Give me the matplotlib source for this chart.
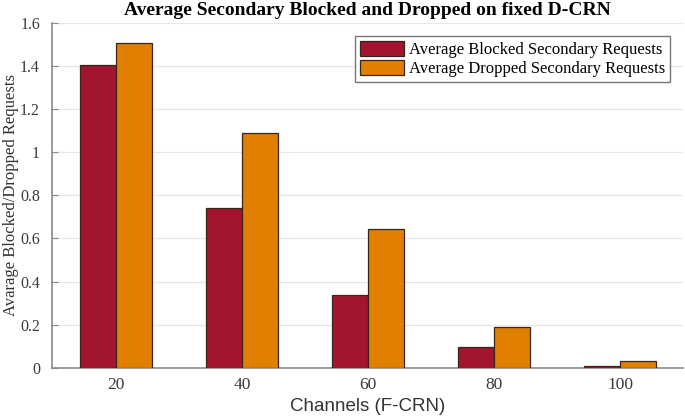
import numpy as np
import matplotlib.pyplot as plt

channels = ["20", "40", "60", "80", "100"]
blocked = [1.405, 0.742, 0.338, 0.095, 0.008]
dropped = [1.506, 1.09, 0.645, 0.189, 0.031]
yticks = [0, 0.2, 0.4, 0.6, 0.8, 1, 1.2, 1.4, 1.6]
ytick_labels = ["0", "0.2", "0.4", "0.6", "0.8", "1", "1.2", "1.4", "1.6"]

serif = ["Liberation Serif", "DejaVu Serif"]
sans = ["Liberation Sans", "DejaVu Sans"]

fig = plt.figure(figsize=(6.85, 4.2), dpi=100)
ax = fig.add_axes([0.0755, 0.1245, 0.9216, 0.8207])

x = np.arange(len(channels))
w = 0.286
ax.bar(x - w / 2, blocked, w, color="#A31431", edgecolor="#3c2418", linewidth=0.9,
       label="Average Blocked Secondary Requests", zorder=3)
ax.bar(x + w / 2, dropped, w, color="#E07F00", edgecolor="#3c2418", linewidth=0.9,
       label="Average Dropped Secondary Requests", zorder=3)

ax.set_xlim(-0.51, 4.5)
ax.set_ylim(0, 1.6)
ax.set_xticks(x)
ax.set_xticklabels(channels, family=serif, fontsize=12.5, color="#3a3a3a")
ax.set_yticks(yticks)
ax.set_yticklabels(ytick_labels, family=serif, fontsize=11.5, color="#3a3a3a")
ax.tick_params(axis="y", length=4, color="#888888", direction="in", pad=8.5)
ax.tick_params(axis="x", length=0, pad=7)

ax.grid(axis="y", color="#e6e6e6", linewidth=0.9, zorder=0)
for s in ["top", "right"]:
    ax.spines[s].set_visible(False)
for s in ["left", "bottom"]:
    ax.spines[s].set_color("#8a8a8a")
    ax.spines[s].set_linewidth(1.2)

ax.set_title("Average Secondary Blocked and Dropped on fixed D-CRN",
             family=serif, fontsize=14, fontweight="bold", pad=6)
ax.set_xlabel("Channels (F-CRN)", family=sans, fontsize=13.5, color="#333333", labelpad=3)
ax.set_ylabel("Avarage Blocked/Dropped Requests", family=serif, fontsize=12, color="#333333")
ax.yaxis.set_label_coords(-0.052, 0.5)

leg = ax.legend(loc="upper right", prop={"family": serif, "size": 12}, fancybox=False,
                edgecolor="#777777", framealpha=1, handlelength=2.6, handleheight=1.0,
                handletextpad=0.3, borderpad=0.3, labelspacing=0.1, borderaxespad=0,
                bbox_to_anchor=(0.979, 0.962))
leg.get_frame().set_linewidth(1.0)

fig.savefig("out.png", dpi=100)
